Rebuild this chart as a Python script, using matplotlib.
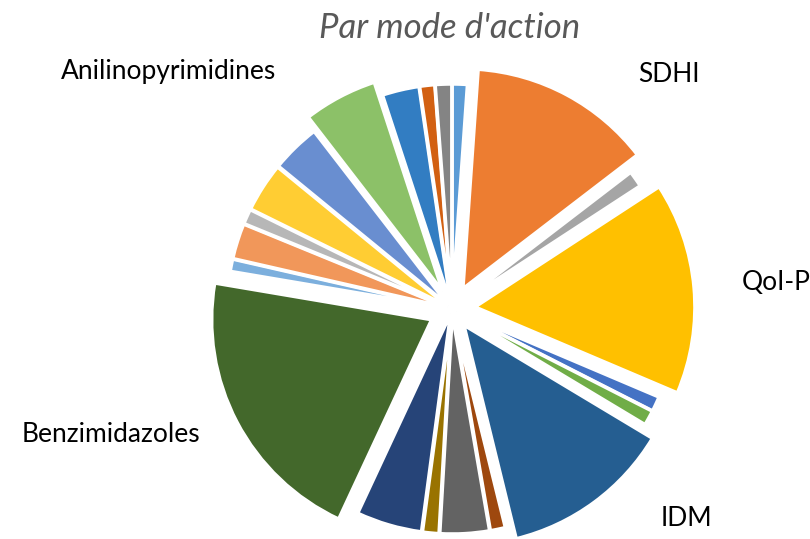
import matplotlib.pyplot as plt

# share of each mode of action (%), in pie order starting at 12 o'clock, clockwise
modes = ['', 'SDHI', '', 'QoI-P', '', '', 'IDM', '', '', '', '',
         'Benzimidazoles', '', '', '', '', '', 'Anilinopyrimidines', '', '', '']
shares = [1.1, 13.4, 1.2, 15.5, 1.1, 1.1, 12.5, 1.1, 3.6, 1.2, 4.8,
          20.6, 0.9, 2.6, 1.1, 3.6, 3.6, 5.4, 2.7, 1.1, 1.2]

# Office default point colours
colors = ['#5B9BD5', '#ED7D31', '#A5A5A5', '#FFC000', '#4472C4', '#70AD47',
          '#255E91', '#9E480E', '#636363', '#997300', '#264478', '#43682B',
          '#7CAFDD', '#F1975A', '#B7B7B7', '#FFCD33', '#698ED0', '#8CC168',
          '#327DC2', '#D26012', '#848484']

W, H = 810, 539
cx, cy, R = 452, H - 309, 220

# labelled slices are pulled out further
explode = [23 if m else 5 for m in modes]
explode[6] = 20
explode[17] = 20

# label anchors in pixels (x, y from top)
label_pos = {
    'SDHI': (669, 75),
    'QoI-P': (776, 282),
    'IDM': (686, 518),
    'Benzimidazoles': (111, 435),
    'Anilinopyrimidines': (169, 72),
}

plt.rcParams['font.family'] = ['Lato', 'DejaVu Sans']

fig = plt.figure(figsize=(W / 100, H / 100), dpi=100)
ax = fig.add_axes((0, 0, 1, 1))

ax.pie(shares, colors=colors, explode=explode, startangle=90, counterclock=False,
       radius=R, center=(cx, cy),
       wedgeprops=dict(edgecolor='white', linewidth=2.5))

for name, (px, py) in label_pos.items():
    ax.text(px, H - py, name, ha='center', va='center', fontsize=19, color='#000000')

ax.text(450, H - 28, "Par mode d'action", ha='center', va='center',
        fontsize=25, style='italic', color='#595959')

ax.set_xlim(0, W)
ax.set_ylim(0, H)
ax.set_aspect('equal')
ax.axis('off')

fig.savefig('out.png', dpi=100)
